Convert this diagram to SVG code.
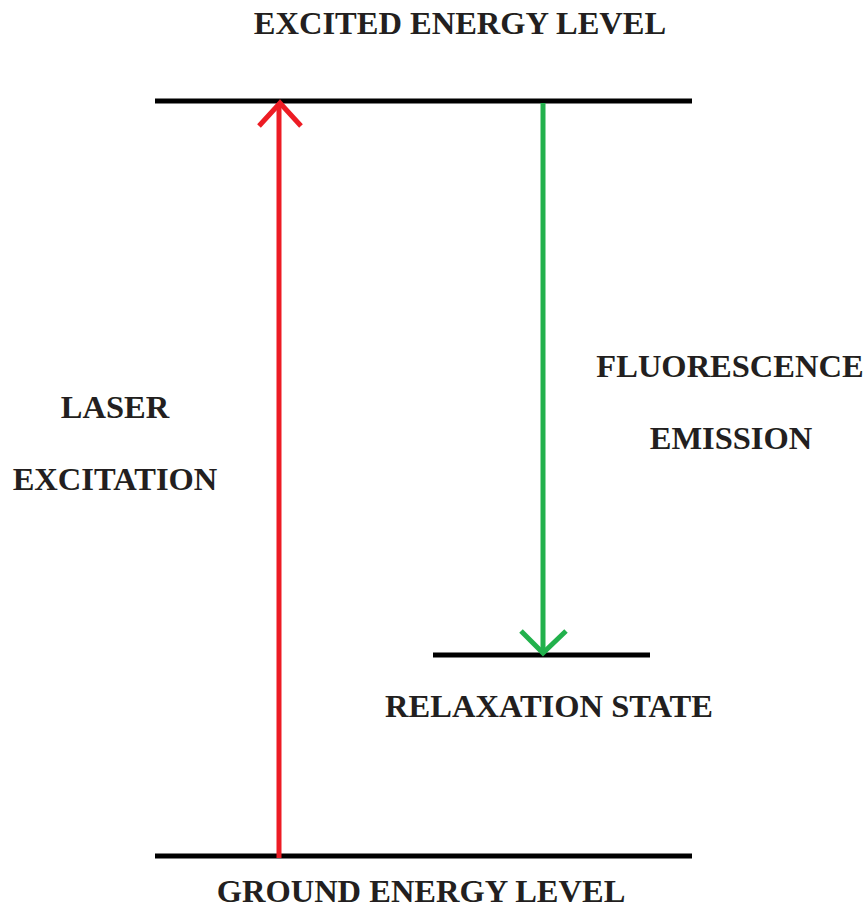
<svg xmlns="http://www.w3.org/2000/svg" width="867" height="909" viewBox="0 0 867 909">
<style>
.t{font-family:"Liberation Serif","Times New Roman",serif;font-weight:bold;font-size:32.5px;fill:#231f20;text-anchor:middle}
.lvl{stroke:#000;stroke-width:5;fill:none}
.ar{stroke-width:5;fill:none;stroke-linecap:butt;stroke-linejoin:miter}
</style>
<rect width="867" height="909" fill="#fff"/>
<g id="excited"><line class="lvl" x1="155" y1="101" x2="692" y2="101"/><text class="t" x="460" y="34">EXCITED ENERGY LEVEL</text></g>
<g id="ground"><line class="lvl" x1="155" y1="856" x2="692" y2="856"/><text class="t" x="421" y="902">GROUND ENERGY LEVEL</text></g>
<g id="relax"><line class="lvl" x1="433" y1="655" x2="650" y2="655"/><text class="t" x="549" y="717">RELAXATION STATE</text></g>
<g id="laser-label"><text class="t" x="115" y="418">LASER</text><text class="t" x="115" y="490">EXCITATION</text></g>
<g id="fluor-label"><text class="t" x="730" y="377">FLUORESCENCE</text><text class="t" x="731" y="449">EMISSION</text></g>
<g id="connectors">
<line class="ar" stroke="#ed1c24" x1="279" y1="858" x2="279" y2="103"/>
<polyline class="ar" stroke="#ed1c24" points="259,126 280,103 301,126"/>
<line class="ar" stroke="#22b14c" x1="543" y1="103" x2="543" y2="653"/>
<polyline class="ar" stroke="#22b14c" points="521,631 543,653 566,631"/>
</g>
</svg>
